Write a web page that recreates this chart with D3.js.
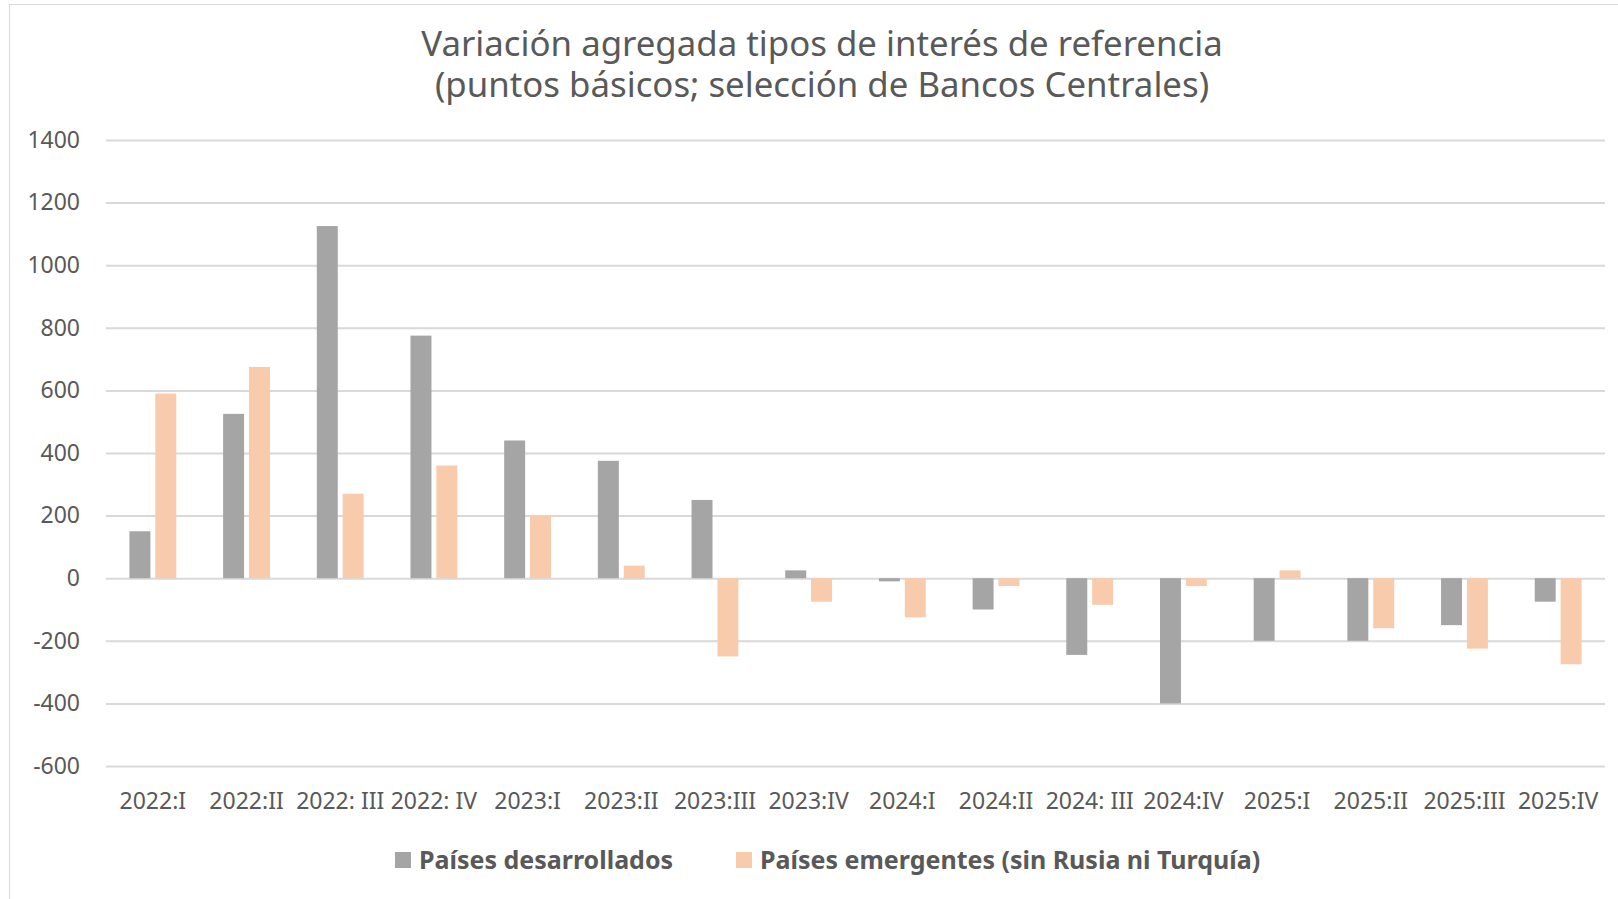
<!DOCTYPE html>
<html lang="es">
<head>
<meta charset="utf-8">
<script src="https://cdn.jsdelivr.net/npm/d3@7"></script>
<style>
    html, body { margin: 0; padding: 0; background: #ffffff; }
    svg { display: block; font-family: "Noto Sans", "Open Sans", sans-serif; }
</style>
</head>
<body>
<svg class="bar-chart" width="1618" height="899"></svg>
<script>
// Data (basis points)
const quarters = ['2022:I', '2022:II', '2022: III', '2022: IV', '2023:I', '2023:II', '2023:III', '2023:IV',
    '2024:I', '2024:II', '2024: III', '2024:IV', '2025:I', '2025:II', '2025:III', '2025:IV'];
const developed = [150, 525, 1125, 775, 440, 375, 250, 25, -10, -100, -245, -400, -200, -200, -150, -75];
const emerging = [590, 675, 270, 360, 200, 40, -250, -75, -125, -25, -85, -25, 25, -160, -225, -275];
const seriesNames = ['Países desarrollados', 'Países emergentes (sin Rusia ni Turquía)'];
const seriesColors = ['#A5A5A5', '#F8CBAD'];
const yTicks = [-600, -400, -200, 0, 200, 400, 600, 800, 1000, 1200, 1400];
const titleLines = ['Variación agregada tipos de interés de referencia', '(puntos básicos; selección de Bancos Centrales)'];

const svg = d3.select('.bar-chart');
const textColor = '#595959';

// Chart frame
svg.append('rect')
    .attr('x', 9.5).attr('y', 4.5)
    .attr('width', 1640).attr('height', 920)
    .attr('fill', '#fff')
    .attr('stroke', '#D9D9D9');

// Plot area
const plot = { left: 106, right: 1605, top: 140, bottom: 766 };

const xScale = d3.scaleBand()
    .domain(quarters)
    .range([plot.left, plot.right]);

const bw = xScale.bandwidth();
const xSub = d3.scaleBand()
    .domain([0, 1])
    .range([bw * 0.25, bw * 0.75])
    .paddingInner(0.19);

const yScale = d3.scaleLinear()
    .domain([-600, 1400])
    .range([plot.bottom, plot.top]);

// Title (two separate lines)
svg.append('g')
    .selectAll('text')
    .data(titleLines)
    .join('text')
    .attr('x', 822)
    .attr('y', (d, i) => 56 + i * 41)
    .attr('fill', textColor)
    .attr('font-size', 34.8)
    .attr('text-anchor', 'middle')
    .text(d => d);

// Gridlines + y labels
const yAxis = svg.append('g')
    .attr('transform', `translate(${plot.left},0)`)
    .call(d3.axisLeft(yScale)
        .tickValues(yTicks)
        .tickSize(-(plot.right - plot.left))
        .tickPadding(26)
        .tickFormat(d => String(d)));
yAxis.select('.domain').remove();
yAxis.selectAll('.tick line').attr('stroke', '#D9D9D9').attr('stroke-width', 2);
yAxis.selectAll('.tick text')
    .attr('fill', textColor)
    .attr('font-size', 23)
    .attr('font-family', '"Noto Sans", sans-serif');

// Bars
const rows = quarters.map((q, i) => ({ q, values: [developed[i], emerging[i]] }));

svg.append('g')
    .selectAll('g')
    .data(rows)
    .join('g')
    .attr('transform', d => `translate(${xScale(d.q)},0)`)
    .selectAll('rect')
    .data(d => d.values.map((v, k) => ({ v, k })))
    .join('rect')
    .attr('x', d => xSub(d.k))
    .attr('width', xSub.bandwidth())
    .attr('y', d => yScale(Math.max(0, d.v)))
    .attr('height', d => Math.abs(yScale(d.v) - yScale(0)))
    .attr('fill', d => seriesColors[d.k]);

// X labels
const xAxis = svg.append('g')
    .attr('transform', `translate(0,${plot.bottom})`)
    .call(d3.axisBottom(xScale).tickSize(0).tickPadding(27));
xAxis.select('.domain').remove();
xAxis.selectAll('.tick text')
    .attr('fill', textColor)
    .attr('font-size', 23)
    .attr('font-family', '"Noto Sans", sans-serif');

// Legend
const legend = svg.append('g').attr('font-size', 25).attr('font-weight', 'bold');
const legendX = [395, 736];
seriesNames.forEach((name, i) => {
    legend.append('rect')
        .attr('x', legendX[i]).attr('y', 852)
        .attr('width', 16).attr('height', 16)
        .attr('fill', seriesColors[i]);
    legend.append('text')
        .attr('x', legendX[i] + 24).attr('y', 869)
        .attr('fill', textColor)
        .text(name);
});
</script>
</body>
</html>
